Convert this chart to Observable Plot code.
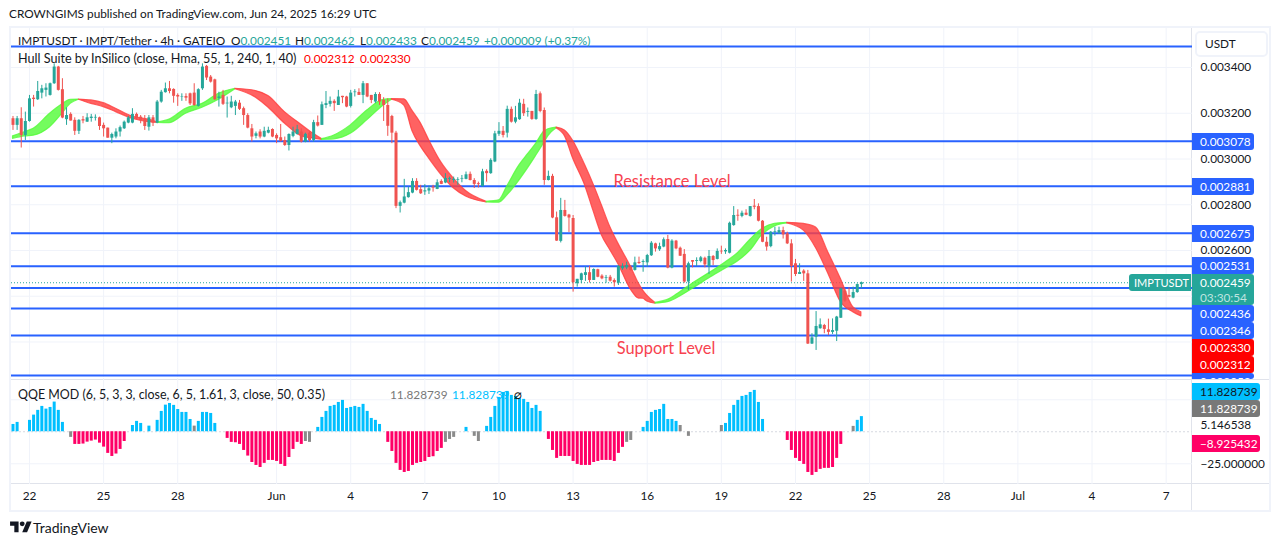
<!DOCTYPE html>
<html>
<head>
<meta charset="utf-8">
<script src="https://cdn.jsdelivr.net/npm/d3@7"></script>
<script src="https://cdn.jsdelivr.net/npm/@observablehq/plot@0.6"></script>
<style>
html,body{margin:0;padding:0;background:#fff;width:1281px;height:546px;overflow:hidden}
#stage{position:relative;width:1281px;height:546px;font-family:"Lato",sans-serif;font-size:11.8px;color:#131722}
.t{position:absolute;white-space:nowrap;line-height:16px}
.tag{position:absolute;left:1192px;height:17px;line-height:17px;border-radius:0 3px 3px 0;padding-left:8px;box-sizing:border-box;color:#fff;overflow:hidden;white-space:nowrap}
.box{position:absolute;box-sizing:border-box}
</style>
</head>
<body>
<div id="stage"></div>
<script>
// Prices are in millionths of USDT (2459 = 0.002459). Bars are 4h candles, bar 0 = 21 May 08:00.
const opens = [
3176,3147,3176,3103,3164,3266,3259,3288,3300,3278,
3329,3402,3303,3172,3195,3169,3121,3172,3161,3177,
3179,3180,3147,3135,3091,3096,3118,3132,3157,3157,
3195,3183,3172,3139,3180,3157,3249,3290,3307,3304,
3278,3271,3273,3285,3288,3230,3307,3405,3358,3346,
3265,3278,3241,3224,3230,3244,3220,3190,3132,3099,
3118,3096,3113,3129,3103,3093,3081,3059,3099,3107,
3118,3074,3113,3081,3159,3147,3234,3239,3252,3234,
3274,3271,3230,3290,3291,3278,3329,3278,3249,3282,
3256,3234,3186,3113,2793,2807,2831,2851,2902,2866,
2856,2860,2877,2867,2902,2895,2911,2906,2906,2912,
2911,2933,2906,2892,2880,2946,2936,2987,3108,3121,
3113,3217,3161,3172,3239,3204,3208,3173,3285,3212,
2906,2924,2743,2640,2775,2755,2740,2455,2469,2491,
2503,2469,2516,2488,2478,2483,2469,2457,2520,2524,
2527,2513,2548,2548,2546,2577,2629,2603,2615,2648,
2523,2641,2610,2583,2462,2556,2552,2552,2566,2530,
2574,2561,2597,2594,2588,2709,2754,2749,2763,2749,
2794,2792,2728,2636,2617,2680,2676,2687,2673,2629,
2542,2495,2510,2498,2191,2221,2258,2272,2253,2242,
2247,2304,2422,2403,2392,2416,2451];
const highs = [
3186,3186,3224,3205,3278,3278,3339,3322,3329,3332,
3416,3405,3351,3224,3202,3180,3172,3186,3198,3195,
3193,3183,3157,3135,3113,3132,3144,3166,3186,3220,
3201,3190,3190,3190,3190,3256,3300,3332,3339,3307,
3285,3285,3285,3288,3329,3307,3416,3409,3365,3349,
3292,3300,3271,3274,3256,3256,3227,3198,3151,3118,
3128,3139,3139,3132,3110,3151,3096,3110,3139,3147,
3132,3113,3118,3169,3188,3249,3295,3271,3259,3300,
3274,3274,3300,3303,3307,3339,3329,3278,3290,3290,
3268,3263,3191,3121,2816,2911,2877,2914,2914,2885,
2888,2882,2885,2909,2909,2936,2921,2921,2918,2928,
2943,2943,2914,2899,2955,2953,3001,3121,3159,3142,
3231,3227,3230,3261,3261,3223,3208,3300,3293,3223,
2947,2933,2768,2828,2819,2758,2753,2474,2501,2528,
2531,2520,2518,2494,2491,2491,2476,2534,2542,2549,
2534,2571,2571,2559,2583,2639,2632,2632,2655,2666,
2647,2644,2615,2604,2549,2556,2568,2574,2571,2600,
2578,2607,2619,2607,2724,2792,2778,2772,2778,2792,
2823,2804,2731,2658,2683,2702,2702,2702,2680,2647,
2561,2542,2516,2513,2236,2333,2301,2277,2300,2301,
2312,2435,2432,2437,2440,2454,2462];
const lows = [
3125,3125,3048,3081,3161,3227,3256,3263,3271,3275,
3326,3297,3176,3147,3166,3103,3107,3154,3160,3161,
3166,3125,3096,3091,3067,3088,3096,3129,3154,3154,
3172,3154,3125,3122,3142,3154,3244,3288,3285,3244,
3230,3252,3252,3234,3230,3227,3300,3343,3332,3256,
3227,3234,3179,3220,3190,3212,3147,3132,3074,3088,
3088,3093,3110,3093,3067,3074,3055,3035,3093,3104,
3070,3071,3074,3074,3140,3147,3220,3227,3208,3234,
3242,3224,3223,3271,3278,3242,3268,3242,3242,3234,
3164,3099,3067,2783,2764,2804,2829,2848,2860,2845,
2841,2845,2855,2866,2888,2892,2896,2895,2885,2896,
2909,2904,2871,2873,2877,2899,2933,2984,3099,3092,
3092,3157,3154,3169,3186,3183,3169,3169,3202,2885,
2904,2739,2640,2633,2746,2679,2418,2440,2455,2465,
2458,2469,2481,2472,2457,2462,2440,2447,2513,2516,
2510,2510,2539,2505,2527,2574,2593,2596,2612,2520,
2520,2603,2574,2457,2425,2524,2530,2546,2524,2495,
2534,2559,2583,2583,2585,2706,2728,2743,2752,2746,
2778,2725,2634,2597,2612,2663,2670,2650,2626,2462,
2486,2495,2465,2189,2189,2163,2256,2236,2228,2233,
2202,2303,2374,2393,2389,2413,2433];
const closes = [
3147,3176,3103,3164,3263,3260,3295,3307,3310,3329,
3402,3300,3179,3190,3166,3121,3169,3166,3180,3183,
3182,3142,3132,3091,3107,3118,3137,3161,3180,3195,
3176,3169,3142,3180,3157,3249,3292,3307,3295,3274,
3271,3273,3266,3241,3234,3303,3402,3354,3336,3259,
3271,3239,3244,3249,3249,3217,3190,3135,3096,3110,
3096,3121,3125,3096,3088,3077,3059,3107,3118,3128,
3074,3108,3081,3159,3144,3237,3242,3252,3242,3271,
3268,3227,3288,3293,3278,3329,3271,3256,3282,3249,
3234,3143,3113,2793,2809,2834,2853,2902,2863,2848,
2861,2870,2873,2896,2889,2915,2915,2911,2909,2915,
2931,2906,2889,2888,2944,2936,2994,3110,3121,3103,
3217,3161,3180,3244,3198,3208,3173,3282,3208,2906,
2924,2742,2641,2775,2749,2742,2459,2474,2498,2503,
2469,2517,2483,2476,2481,2466,2459,2530,2530,2534,
2513,2546,2543,2552,2578,2632,2607,2617,2647,2523,
2641,2607,2575,2462,2542,2549,2556,2568,2537,2574,
2556,2596,2594,2600,2719,2753,2750,2763,2754,2792,
2789,2728,2636,2615,2680,2683,2687,2668,2629,2530,
2495,2504,2498,2191,2218,2268,2275,2255,2242,2250,
2309,2432,2379,2396,2416,2451,2459];

// Hull Suite band read at sample bars
const hullBars = [0,3,5,9,12,14,16,19,22,25,29,33,35,38,42,46,50,54,59,62,66,70,73,75,78,82,86,90,92,95,97,99,101,104,107,110,115,118,120,123,125,127,129,130,132,134,136,139,141,143,145,147,150,152,153,154,156,159,162,165,169,173,176,179,182,185,188,192,195,198,201,204,206];
const hullUpper = [3099,3118,3132,3198,3239,3259,3260,3256,3244,3220,3186,3172,3160,3172,3220,3241,3285,3307,3297,3275,3205,3150,3110,3087,3103,3147,3212,3259,3262,3261,3210,3157,3084,2985,2915,2860,2813,2819,2880,2973,3020,3066,3120,3130,3137,3125,3080,2970,2888,2797,2704,2630,2530,2454,2425,2403,2371,2384,2418,2455,2500,2548,2588,2646,2695,2717,2721,2716,2700,2590,2476,2352,2330];
const hullLower = [3088,3099,3102,3139,3198,3241,3259,3241,3227,3205,3176,3161,3158,3157,3198,3224,3259,3305,3268,3225,3155,3100,3089,3084,3086,3110,3169,3234,3259,3234,3121,3055,3003,2931,2872,2836,2810,2809,2840,2907,2958,3013,3070,3100,3134,3100,3002,2880,2770,2666,2602,2540,2430,2390,2389,2377,2368,2374,2399,2432,2478,2520,2552,2598,2668,2705,2718,2687,2610,2497,2375,2330,2312];
const hullTurns = [16,35,54,75,92,115,132,156,188];

// QQE MOD histogram, one value per bar (0 = no visible bar)
const qqe = [
5.7,7.3,0,0,8.9,13,16.7,19.8,17.7,19,
23.2,16.7,7.3,0,-4.4,-9.9,-9.9,-9.6,-8.1,-7.3,
-6.5,-8.9,-12,-16.9,-19.3,-17.4,-13.8,-7.6,0,4.9,
8.1,6.5,0,4.4,0,8.9,15.9,20.8,22.1,20.6,
17.4,15.1,15.1,9.6,4.4,8.1,15.1,15.1,14.3,6.5,
0,0,-5.2,-8.3,-8.6,-9.9,-14.6,-19,-24,-26.3,
-27.9,-24.7,-22.4,-22.4,-23.2,-25.5,-27.1,-20.1,-13.8,-8.3,
-9.9,-7.6,-8.3,0,3.4,11.2,15.9,19.8,20.6,22.9,
24.5,18.2,19,19.8,19,21.4,15.9,10.4,8.9,5.7,
0,-8.3,-15.4,-24.7,-30.2,-31.8,-31,-26.3,-24.7,-24,
-23.2,-20.1,-19.5,-15.4,-13,-8.3,-6,-4.4,0,0,
3.4,0,-3.6,-7.6,0,4.2,11.2,19.8,26.8,30.7,
31.5,28.4,27.6,26,25.3,22.9,18.2,20.6,15.9,0,
-6,-14.6,-20.8,-19.3,-19.3,-19.3,-23.2,-25.5,-26.3,-26.3,
-26.3,-24,-23.2,-22.4,-22.4,-22.4,-23.2,-16.9,-12.2,-8.3,
-6.8,0,0,3.4,8.1,15.1,16.7,17.4,21.4,9.6,
9.6,8.1,4.9,0,-3.6,0,0,0,0,0,
0,0,4.9,6.5,14.3,20.6,24.5,27.6,28.4,30.7,
32.3,22.9,9.6,0,0,0,0,0,-6.8,-14.6,
-20.8,-23.2,-25.5,-31.8,-34.1,-31.8,-29.4,-28.6,-28.6,-27.9,
-20.8,-9.9,0,0,4.2,8.9,11.83];
const qqeGrey = [14,44,71,72,105,106,107,112,113,149,150,162,164,172,204];

// Axes
const dayBars = [4,22,40,64,82,100,118,136,154,172,190,208,226,244,262,280];
const dayLabels = ["22","25","28","Jun","4","7","10","13","16","19","22","25","28","Jul","4","7"];
const priceTicks = [3400,3200,3000,2800,2600];
const priceGrid = [3400,3200,3000,2800,2600,2400,2200];
const levels = [3492,3078,2881,2675,2531,2436,2346,2228,2053];
const lastClose = 2459;
const notes = ["Resistance Level","Support Level"];
const noteBars = [145.8,146.6];
const notePrices = [2902,2172];
const qqeTicks = [-25,5.146538];
const qqeGrid = [-25,25];

// Axis tags: text, background, text colour
const priceTags = [
 ["0.003078",141,"#2962ff"],["0.002881",186,"#2962ff"],["0.002675",233,"#2962ff"],["0.002531",265.7,"#2962ff"],
 ["0.002436",313.5,"#2962ff"],["0.002346",330.5,"#2962ff"],["0.002330",347.7,"#ff0000"],["0.002312",364.7,"#ff0000"]];
const qqeTags = [["11.828739",391.7,"#00bfff","#131722"],["11.828739",408.5,"#787878","#fff"],["−8.925432",443.5,"#ff0066","#fff"]];

const UP="#26a69a", DOWN="#ef5350", BLUE="#2962ff", GRID="#f0f3fa";
const candles = opens.map((o,i)=>({i,o,h:highs[i],l:lows[i],c:closes[i],col:closes[i]>=o?UP:DOWN}));
const hullRows = [];
hullBars.forEach((b,k)=>{
  const seg = hullTurns.filter(t=>t<b).length;
  const row = (s)=>({b,u:hullUpper[k],d:hullLower[k],seg:s,col:s%2?"#ff3f3f":"#55fb3a"});
  hullRows.push(row(seg));
  if(hullTurns.includes(b)) hullRows.push(row(seg+1));
});
const qqeRows = qqe.map((v,i)=>({i,v,col:qqeGrey.includes(i)?"#8a8a8a":v>0?"#00bfff":"#ff0066"})).filter(d=>d.v!==0);
const fmtPrice = d=>(d/1e6).toFixed(6);
const xDomain = [-0.364,286.4];
const font = '"Lato",sans-serif';

const pricePlot = Plot.plot({
  width:1281,height:349,marginLeft:11,marginRight:89,marginTop:0,marginBottom:0,
  style:{fontFamily:font,fontSize:"11.8px",color:"#131722",background:"transparent",position:"absolute",left:"0px",top:"28px"},
  x:{domain:xDomain,axis:null},
  y:{domain:[2044.8,3570.5],axis:null},
  marks:[
    Plot.ruleX(dayBars,{stroke:GRID,strokeWidth:1}),
    Plot.ruleY(priceGrid,{stroke:GRID,strokeWidth:1}),
    Plot.ruleY(levels,{stroke:BLUE,strokeWidth:2}),
    Plot.ruleY([lastClose],{stroke:UP,strokeDasharray:"1,2",strokeWidth:1}),
    Plot.areaY(hullRows,{x:"b",y1:"u",y2:"d",z:"seg",fill:"col",fillOpacity:0.82,stroke:"col",strokeOpacity:0.82,strokeWidth:1.2,curve:"monotone-x"}),
    Plot.ruleX(candles,{x:"i",y1:"l",y2:"h",stroke:"col",strokeWidth:1}),
    Plot.ruleX(candles,{x:"i",y1:"o",y2:"c",stroke:"col",strokeWidth:3}),
    Plot.text(notes,{x:(d,k)=>noteBars[k],y:(d,k)=>notePrices[k],text:d=>d,textAnchor:"start",fill:"#f7424f",fontSize:16.4}),
    Plot.axisY({anchor:"right",ticks:priceTicks,tickFormat:fmtPrice,tickSize:0,tickPadding:8,label:null,fontSize:11.8})
  ]
});

const qqePlot = Plot.plot({
  width:1281,height:134,marginLeft:11,marginRight:89,marginTop:0,marginBottom:28,
  style:{fontFamily:font,fontSize:"11.8px",color:"#131722",background:"transparent",position:"absolute",left:"0px",top:"378px"},
  x:{domain:xDomain,axis:null},
  y:{domain:[-41.2,41.6],axis:null},
  marks:[
    Plot.ruleX(dayBars,{stroke:GRID,strokeWidth:1}),
    Plot.ruleY(qqeGrid,{stroke:GRID,strokeWidth:1}),
    Plot.ruleY([0],{stroke:"#d6d9e0",strokeDasharray:"2,2",strokeWidth:1}),
    Plot.ruleX(qqeRows,{x:"i",y1:0,y2:"v",stroke:"col",strokeWidth:3}),
    Plot.axisY({anchor:"right",ticks:qqeTicks,tickFormat:d=>d<0?"−"+Math.abs(d).toFixed(6):d.toFixed(6),tickSize:0,tickPadding:8,label:null,fontSize:11.8}),
    Plot.axisX({anchor:"bottom",ticks:dayBars,tickFormat:d=>dayLabels[dayBars.indexOf(d)],tickSize:0,tickPadding:7,label:null,fontSize:11.8})
  ]
});

const stage = document.getElementById("stage");
const add = (cls,text,css)=>{const e=document.createElement("div");e.className=cls;e.textContent=text;e.style.cssText=css;stage.appendChild(e);return e;};

// chrome under the plots
add("box","","left:9px;top:26px;width:1262px;height:486px;border:2px solid #f0f3fa");
add("box","","left:11px;top:378.5px;width:1258px;height:1px;background:#e0e3eb");
add("box","","left:11px;top:483px;width:1258px;height:1px;background:#e0e3eb");
add("box","","left:1191px;top:28px;width:1px;height:482px;background:#e0e3eb");
stage.appendChild(pricePlot);
stage.appendChild(qqePlot);

// header
add("t","CROWNGIMS published on TradingView.com, Jun 24, 2025 16:29 UTC","left:9px;top:6px");
add("t","IMPTUSDT · IMPT/Tether · 4h · GATEIO","left:18px;top:33px");
const soft="#26a69a";
[["O",231,"0.002451"],["H",295,"0.002462"],["L",360,"0.002433"],["C",421,"0.002459"]].forEach(([a,x,v])=>{
  const e=add("t","", `left:${x}px;top:33px`);
  e.innerHTML=`${a}<span style="color:${soft}">${v}</span>`;
});
add("t","+0.000009 (+0.37%)",`left:484px;top:33px;color:${soft}`);
add("t","Hull Suite by InSilico (close, Hma, 55, 1, 240, 1, 40)","left:18px;top:51px;font-size:12.6px");
add("t","0.002312","left:304px;top:51px;color:#ff0000");
add("t","0.002330","left:360px;top:51px;color:#ff0000");
add("t","QQE MOD (6, 5, 3, 3, close, 6, 5, 1.61, 3, close, 50, 0.35)","left:18px;top:387px;font-size:12.45px");
add("t","11.828739","left:390px;top:387px;color:#787878");
add("t","11.828739","left:452px;top:387px;color:#00bfff");
add("t","⌀","left:514px;top:386px;font-size:13px");

// price axis tags
add("box","USDT","left:1195px;top:31px;width:73px;height:26px;border:2px solid #f0f3fa;border-radius:5px;line-height:22px;padding-left:8px;background:#fff");
priceTags.forEach(([t,y,bg])=>add("tag",t,`top:${y-8.5}px;width:62px;background:${bg}`));
add("tag","0.002053","top:372.5px;height:6px;width:62px;background:#2962ff");
const last=add("tag","","top:274px;height:31px;width:62px;background:#26a69a;line-height:15px;padding-top:1px");
last.innerHTML='0.002459<br><span style="color:#bfe4e0">03:30:54</span>';
add("tag","IMPTUSDT","left:1129px;top:274px;width:62px;padding-left:5px;font-size:11px;border-radius:3px 0 0 3px;background:#26a69a");
qqeTags.forEach(([t,y,bg,fg])=>add("tag",t,`top:${y-8.5}px;width:68px;background:${bg};color:${fg}`));

// footer logo + text
const logo=document.createElementNS("http://www.w3.org/2000/svg","svg");
logo.setAttribute("viewBox","0 0 36 28");logo.setAttribute("width","22");logo.setAttribute("height","17");
logo.style.cssText="position:absolute;left:10px;top:519px";
logo.innerHTML='<path fill="#131722" d="M14 22H7V11H0V4h14v18zM28 22h-8l7.5-18h8L28 22z"/><circle fill="#131722" cx="20" cy="8" r="4"/>';
stage.appendChild(logo);
add("t","TradingView","left:33px;top:520px;font-size:14px");
</script>
</body>
</html>
